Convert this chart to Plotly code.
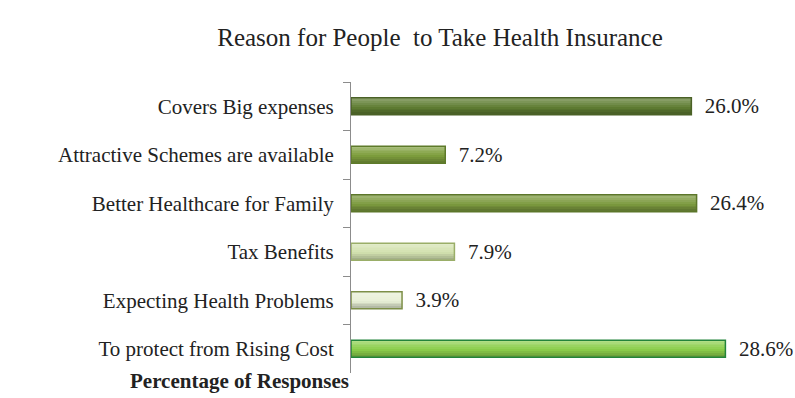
import plotly.graph_objects as go

# Survey results: why people take health insurance (% of responses)
reasons = [
    "Covers Big expenses",
    "Attractive Schemes are available",
    "Better Healthcare for Family",
    "Tax Benefits",
    "Expecting Health Problems",
    "To protect from Rising Cost",
]
shares = [26.0, 7.2, 26.4, 7.9, 3.9, 28.6]
share_labels = ["26.0%", "7.2%", "26.4%", "7.9%", "3.9%", "28.6%"]

# Per-bar fill and outline colours
base_colors = ["#5f7d32", "#7f9f3e", "#7c9a3f", "#d3e2b0", "#e8f0d6", "#8ccf4c"]
edge_colors = ["#4a6126", "#5e7a2a", "#5c762a", "#9aae68", "#7d8f48", "#23843a"]

SERIF = "Liberation Serif"
BAR_W = 0.35
N_STRIPES = 9


def hex_to_rgb(h):
    h = h.lstrip("#")
    return tuple(int(h[i:i + 2], 16) for i in (0, 2, 4))


def shade(h, f):
    r, g, b = hex_to_rgb(h)
    if f >= 0:
        r, g, b = (r + (255 - r) * f, g + (255 - g) * f, b + (255 - b) * f)
    else:
        r, g, b = (r * (1 + f), g * (1 + f), b * (1 + f))
    return f"rgb({int(r)},{int(g)},{int(b)})"


fig = go.Figure()

# Horizontal stripes give each bar a soft top-lit gradient
stripe_w = BAR_W / N_STRIPES
for i in range(N_STRIPES):
    t = i / (N_STRIPES - 1)
    f = 0.32 * (1 - t) - 0.22 * t
    fig.add_trace(go.Bar(
        x=shares, y=reasons, orientation="h",
        width=stripe_w * 1.02, offset=-BAR_W / 2 + i * stripe_w,
        marker=dict(color=[shade(c, f) for c in base_colors], line=dict(width=0)),
        hoverinfo="skip", showlegend=False,
    ))

# Outline and value labels
fig.add_trace(go.Bar(
    x=shares, y=reasons, orientation="h",
    width=BAR_W, offset=-BAR_W / 2,
    marker=dict(color="rgba(0,0,0,0)", line=dict(color=edge_colors, width=1.5)),
    text=["\u00a0\u00a0" + s for s in share_labels], textposition="outside",
    cliponaxis=False, constraintext="none",
    textfont=dict(family=SERIF, size=21, color="#222222"),
    showlegend=False,
))

fig.update_layout(
    width=795, height=398,
    margin=dict(l=351, r=12, t=82, b=25),
    paper_bgcolor="white", plot_bgcolor="white",
    barmode="overlay",
    title=dict(
        text="Reason for People\u00a0 to Take Health Insurance",
        x=440 / 795, xanchor="center", y=1 - 37 / 398, yanchor="middle",
        font=dict(family=SERIF, size=25, color="#222222"),
    ),
    xaxis=dict(range=[0, 33], visible=False),
    yaxis=dict(
        type="category", autorange="reversed",
        showline=True, linecolor="#8c8c8c", linewidth=1,
        ticks="outside", ticklen=7, tickcolor="#8c8c8c", tickson="boundaries",
        ticklabelstandoff=12,
        tickfont=dict(family=SERIF, size=21, color="#222222"),
        showgrid=False, zeroline=False,
    ),
    annotations=[dict(
        text="<b>Percentage of Responses</b>",
        xref="paper", yref="paper",
        x=(239 - 351) / (795 - 351 - 12), y=-(381 - 373) / 291,
        xanchor="center", yanchor="middle", showarrow=False,
        font=dict(family=SERIF, size=21, color="#222222"),
    )],
)

fig.write_html("out.html")
